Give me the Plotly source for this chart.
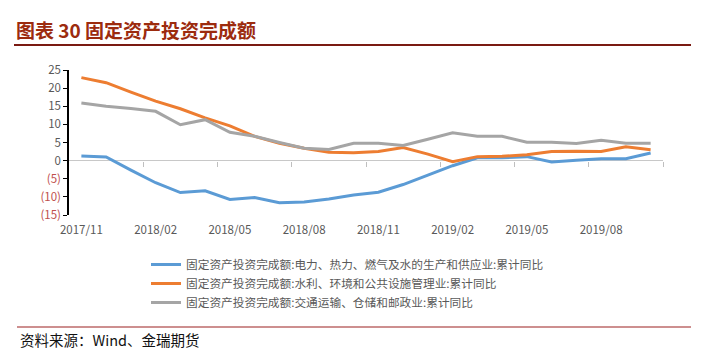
import plotly.graph_objects as go

months = ["2017/11", "2017/12", "2018/01", "2018/02", "2018/03", "2018/04", "2018/05", "2018/06",
          "2018/07", "2018/08", "2018/09", "2018/10", "2018/11", "2018/12", "2019/01", "2019/02",
          "2019/03", "2019/04", "2019/05", "2019/06", "2019/07", "2019/08", "2019/09", "2019/10"]

power = [1.3, 1.0, -2.6, -6.1, -8.8, -8.3, -10.7, -10.2, -11.6, -11.4, -10.6, -9.5,
         -8.7, -6.6, -4.0, -1.4, 0.8, 0.8, 1.1, -0.4, 0.1, 0.5, 0.5, 2.1]
water = [22.9, 21.5, 18.9, 16.4, 14.3, 11.8, 9.6, 6.7, 4.8, 3.4, 2.3, 2.2,
         2.5, 3.6, 1.8, -0.3, 1.1, 1.2, 1.6, 2.5, 2.6, 2.5, 3.8, 3.0]
transport = [15.9, 15.0, 14.4, 13.6, 9.9, 11.3, 7.8, 6.7, 5.0, 3.4, 3.1, 4.8,
             4.8, 4.2, 5.9, 7.7, 6.7, 6.7, 5.1, 5.1, 4.7, 5.6, 4.8, 4.8]

series_names = [
    "固定资产投资完成额:电力、热力、燃气及水的生产和供应业:累计同比",
    "固定资产投资完成额:水利、环境和公共设施管理业:累计同比",
    "固定资产投资完成额:交通运输、仓储和邮政业:累计同比",
]
series_colors = ["#5B9BD5", "#ED7D31", "#A5A5A5"]

y_ticks = [25, 20, 15, 10, 5, 0, -5, -10, -15]

idx = list(range(len(months)))
label_idx = idx[::3]
boundary_ticks = [i + 2.5 for i in idx[::3]]

FONT = "Noto Sans CJK SC"

# page body has an 8px margin, so the figure is offset by 8px in the window
OFF = 8
W, H = 727 - 2 * OFF, 357 - 2 * OFF

fig = go.Figure()
for name, vals, col in zip(series_names, [power, water, transport], series_colors):
    fig.add_trace(go.Scatter(x=idx, y=vals, mode="lines", name=name,
                             line=dict(color=col, width=3), xaxis="x", yaxis="y"))

# invisible helper trace on the zero-line tick axis
fig.add_trace(go.Scatter(x=[idx[0]], y=[0], mode="markers", marker=dict(opacity=0),
                         showlegend=False, hoverinfo="skip", xaxis="x2", yaxis="y"))

def ylabel(v):
    if v < 0:
        return "<span style='color:#C0504D'>(%d)</span>" % abs(v)
    return str(v)

x_lo, x_hi = -0.5, len(months) - 0.5
y_lo, y_hi = -15, 25

# plot area in window pixels: x 69..663, y 70..215
PL, PR, PT, PB = 69, 663, 70, 215

fig.update_layout(
    width=W, height=H,
    margin=dict(l=PL - OFF, r=W - (PR - OFF), t=PT - OFF, b=H - (PB - OFF), autoexpand=False),
    paper_bgcolor="white", plot_bgcolor="white",
    font=dict(family=FONT, color="#595959", size=12),
    xaxis=dict(range=[x_lo, x_hi], tickmode="array", tickvals=label_idx,
               ticktext=[months[i] for i in label_idx], showgrid=False, zeroline=False,
               showline=False, ticks="", ticklabelstandoff=6, tickangle=0,
               automargin=False,
               tickfont=dict(size=11.5, color="#595959")),
    xaxis2=dict(range=[x_lo, x_hi], overlaying="x", anchor="free",
                position=(0 - y_lo) / (y_hi - y_lo),
                tickmode="array", tickvals=boundary_ticks, ticks="outside", ticklen=5,
                tickcolor="#BFBFBF", tickwidth=1, showticklabels=False,
                showgrid=False, zeroline=False, showline=False, automargin=False),
    yaxis=dict(range=[y_lo, y_hi], tickmode="array", tickvals=y_ticks,
               ticktext=[ylabel(v) for v in y_ticks], showgrid=False,
               zeroline=True, zerolinecolor="#C8C8C8", zerolinewidth=1,
               showline=True, linecolor="black", linewidth=1.5,
               ticks="outside", ticklen=4, tickcolor="black", tickwidth=1.2,
               automargin=False,
               tickfont=dict(size=11.5, color="#595959")),
    legend=dict(xref="container", yref="container",
                x=(146 - OFF) / W, y=1 - (250 - OFF) / H,
                xanchor="left", yanchor="top", orientation="v",
                font=dict(size=11.7, color="#595959", family=FONT),
                itemwidth=30, tracegroupgap=0, bgcolor="rgba(0,0,0,0)"),
    showlegend=True,
)

# paper coordinate helpers (window pixels -> paper fractions)
def px(x):
    return (x - PL) / float(PR - PL)

def py(y):
    return (PB - y) / float(PB - PT)

fig.add_annotation(text="<b>图表 30 固定资产投资完成额</b>", xref="paper", yref="paper",
                   x=px(14), y=py(30), xanchor="left", yanchor="middle", showarrow=False,
                   font=dict(family=FONT, size=19, color="#9C2B0E"))
fig.add_shape(type="line", xref="paper", yref="paper", x0=px(14), x1=px(691),
              y0=py(45), y1=py(45), line=dict(color="#7A1A12", width=2))
fig.add_shape(type="line", xref="paper", yref="paper", x0=px(17), x1=px(691),
              y0=py(327), y1=py(327), line=dict(color="#9C2020", width=1.2))
fig.add_annotation(text="资料来源：Wind、金瑞期货", xref="paper", yref="paper",
                   x=px(18), y=py(339), xanchor="left", yanchor="middle", showarrow=False,
                   font=dict(family=FONT, size=14.5, color="#111111"))

fig.write_html("out.html")
